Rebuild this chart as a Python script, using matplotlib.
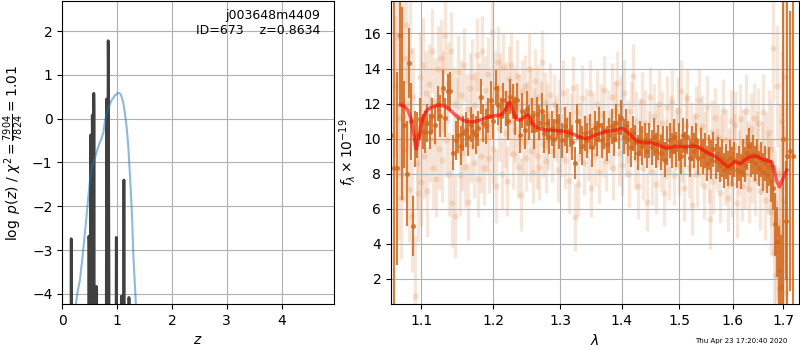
import numpy as np
import matplotlib
matplotlib.use('Agg')
import matplotlib.pyplot as plt
from matplotlib.ticker import FixedLocator, FixedFormatter, NullLocator

# ---- left panel: redshift p(z) ----
pz_z = [0.01, 0.155, 0.160, 0.164, 0.168, 0.173,
        0.478, 0.484, 0.487, 0.490, 0.494, 0.500,
        0.512, 0.518, 0.521, 0.524, 0.527, 0.533,
        0.541, 0.545, 0.548, 0.551, 0.556,
        0.567, 0.572, 0.576, 0.579, 0.583, 0.589,
        0.620, 0.624, 0.628, 0.632,
        0.798, 0.804, 0.810, 0.815, 0.822, 0.832, 0.838, 0.842, 0.847, 0.853, 0.860,
        0.975, 0.981, 0.986, 0.990, 0.995,
        1.072, 1.078, 1.082, 1.086,
        1.115, 1.120, 1.125, 1.129, 1.134,
        1.210, 1.215, 1.220, 1.225, 4.95]
pz_logp = [-12, -12, -8, -2.74, -8, -12,
           -12, -6, -2.68, -2.85, -6, -12,
           -12, -5, -0.37, -0.50, -5, -12,
           -12, -4, 0.08, -0.5, -12,
           -12, -4, 0.58, 0.2, -4, -12,
           -12, -3.83, -3.9, -12,
           -12, -4, 0.45, -1.0, -2.0, -1.0, 1.78, 1.2, -1.5, -4, -12,
           -12, -5, -2.71, -4, -12,
           -12, -4.05, -4.1, -12,
           -12, -5, -1.40, -4, -12,
           -12, -4.08, -4.1, -12, -12]

prior_z = [0.23, 0.25, 0.28, 0.323, 0.37, 0.414, 0.445, 0.475, 0.505, 0.535, 0.60,
           0.657, 0.70, 0.748, 0.78, 0.81, 0.86, 0.90, 0.96, 1.02, 1.06, 1.083,
           1.115, 1.144, 1.175, 1.205, 1.247, 1.275, 1.295, 1.325, 1.357]
prior_logp = [-4.6, -4.23, -3.95, -3.68, -3.15, -2.6, -2.2, -1.78, -1.42, -1.13, -0.88,
              -0.64, -0.5, -0.33, -0.05, 0.12, 0.30, 0.42, 0.53, 0.59, 0.57, 0.50,
              0.35, 0.12, -0.2, -0.64, -1.55, -2.3, -3.07, -3.8, -4.6]

# ---- right panel: spectrum ----
# individual pixels (faint)
faint_wave = [
    1.066, 1.068, 1.070, 1.072, 1.074, 1.076, 1.078, 1.080, 1.082, 1.084,
    1.086, 1.088, 1.090, 1.092, 1.094, 1.096, 1.098, 1.100, 1.102, 1.104,
    1.106, 1.108, 1.110, 1.112, 1.114, 1.116, 1.118, 1.120, 1.122, 1.124,
    1.126, 1.128, 1.130, 1.132, 1.134, 1.136, 1.138, 1.140, 1.142, 1.144,
    1.146, 1.148, 1.150, 1.152, 1.154, 1.156, 1.158, 1.160, 1.162, 1.164,
    1.166, 1.168, 1.170, 1.172, 1.174, 1.176, 1.178, 1.180, 1.182, 1.184,
    1.186, 1.188, 1.190, 1.192, 1.194, 1.196, 1.198, 1.200, 1.202, 1.204,
    1.206, 1.208, 1.210, 1.212, 1.214, 1.216, 1.218, 1.220, 1.222, 1.224,
    1.226, 1.228, 1.230, 1.232, 1.234, 1.236, 1.238, 1.240, 1.242, 1.244,
    1.246, 1.248, 1.250, 1.252, 1.254, 1.256, 1.258, 1.260, 1.262, 1.264,
    1.266, 1.268, 1.270, 1.272, 1.274, 1.276, 1.278, 1.280, 1.282, 1.284,
    1.287, 1.290, 1.293, 1.296, 1.299, 1.302, 1.305, 1.308, 1.311, 1.314,
    1.317, 1.320, 1.323, 1.326, 1.329, 1.332, 1.335, 1.338, 1.341, 1.344,
    1.347, 1.350, 1.353, 1.356, 1.359, 1.362, 1.365, 1.368, 1.371, 1.374,
    1.377, 1.380, 1.383, 1.386, 1.389, 1.392, 1.395, 1.398, 1.401, 1.404,
    1.407, 1.410, 1.413, 1.416, 1.419, 1.422, 1.425, 1.428, 1.431, 1.434,
    1.437, 1.440, 1.443, 1.446, 1.449, 1.452, 1.455, 1.458, 1.461, 1.464,
    1.467, 1.470, 1.473, 1.476, 1.479, 1.482, 1.485, 1.488, 1.491, 1.494,
    1.497, 1.500, 1.503, 1.506, 1.509, 1.512, 1.515, 1.518, 1.521, 1.524,
    1.527, 1.530, 1.533, 1.536, 1.539, 1.542, 1.545, 1.548, 1.551, 1.554,
    1.557, 1.560, 1.563, 1.566, 1.569, 1.572, 1.575, 1.578, 1.581, 1.584,
    1.587, 1.590, 1.593, 1.596, 1.599, 1.602, 1.605, 1.608, 1.611, 1.614,
    1.617, 1.620, 1.623, 1.626, 1.629, 1.632, 1.635, 1.638, 1.641, 1.644,
    1.647, 1.650, 1.653, 1.656, 1.659, 1.662, 1.665, 1.668, 1.671, 1.674,
    1.676, 1.678, 1.680, 1.682, 1.684, 1.686, 1.688, 1.690, 1.692, 1.694,
    1.696, 1.698, 1.700, 1.702, 1.704, 1.706]
faint_flux = [
    13.0, 15.8, 8.0, 11.2, 6.6, 14.6, 9.4, 16.5, 12.0, 7.1,
    15.0, 5.6, 12.4, 1.0, 8.6, 6.9, 13.5, 7.5, 14.2, 9.0,
    12.6, 7.0, 13.1, 10.0, 15.0, 8.3, 12.1, 7.7, 14.0, 9.4,
    14.6, 8.8, 12.7, 15.9, 9.9, 13.2, 8.0, 15.0, 6.3, 12.0,
    5.6, 11.3, 13.8, 7.9, 12.5, 9.2, 14.2, 8.4, 11.7, 6.4,
    12.9, 9.6, 13.5, 8.6, 11.9, 14.8, 7.7, 12.3, 9.0, 15.0,
    8.3, 12.8, 10.1, 13.7, 8.9, 12.0, 16.1, 9.4, 13.1, 7.3,
    14.4, 10.6, 12.9, 8.0, 14.1, 10.3, 12.6, 7.6, 13.4, 11.0,
    14.2, 9.1, 12.3, 10.5, 13.6, 8.4, 11.8, 6.8, 12.7, 9.8,
    13.0, 8.9, 11.5, 14.0, 9.3, 12.2, 8.1, 11.0, 13.3, 9.0,
    12.4, 8.4, 11.6, 14.4, 9.7, 12.1, 8.7, 11.3, 9.9, 12.5,
    9.3, 12.0, 10.6, 8.2, 11.7, 9.6, 12.6, 8.8, 11.1, 7.6,
    10.9, 12.9, 5.5, 11.5, 7.4, 10.4, 12.3, 8.6, 11.2, 9.4,
    12.6, 7.2, 10.8, 9.0, 12.0, 8.1, 11.4, 9.6, 12.8, 8.7,
    11.0, 9.9, 12.4, 8.3, 11.6, 13.2, 9.2, 11.9, 8.5, 12.6,
    9.5, 10.4, 8.0, 11.6, 13.6, 8.9, 11.0, 7.3, 10.5, 12.1,
    8.3, 10.9, 6.4, 9.8, 12.4, 8.1, 11.3, 7.4, 10.2, 12.0,
    8.7, 10.9, 6.9, 9.4, 11.8, 8.2, 10.6, 12.1, 7.9, 10.0,
    11.6, 8.5, 12.7, 9.2, 7.2, 10.8, 12.3, 8.4, 10.2, 6.2,
    9.6, 11.3, 8.0, 12.2, 9.0, 10.7, 7.3, 9.9, 11.8, 8.2,
    5.4, 10.4, 7.6, 11.2, 8.8, 10.1, 6.9, 9.5, 11.6, 7.9,
    9.9, 6.6, 8.9, 11.0, 7.4, 9.6, 10.8, 6.3, 8.6, 11.1,
    7.3, 9.8, 8.0, 11.6, 9.0, 7.1, 10.6, 8.4, 11.2, 7.7,
    9.5, 10.9, 7.0, 8.9, 11.5, 6.5, 9.3, 8.0, 10.4, 5.8,
    7.5, 9.4, 15.2, 3.5, 6.3, 2.2, 13.0, 4.6, 1.4, 8.0,
    3.0, 11.0, 2.0, 6.5, 13.5, 1.2]
faint_err = [
    4.0, 3.5, 3.8, 3.0, 3.5, 3.2, 3.0, 3.4, 2.8, 3.0,
    3.0, 3.2, 2.8, 3.5, 2.6, 2.8, 2.6, 2.5, 2.7, 2.4,
    2.4, 2.6, 2.3, 2.5, 2.4, 2.3, 2.5, 2.2, 2.4, 2.3,
    2.2, 2.4, 2.3, 2.2, 2.1, 2.3, 2.4, 2.2, 2.5, 2.1,
    2.4, 2.2, 2.1, 2.3, 2.0, 2.2, 2.1, 2.3, 2.0, 2.2,
    2.0, 2.1, 2.2, 2.0, 1.9, 2.1, 2.2, 2.0, 2.1, 2.0,
    2.1, 1.9, 2.0, 2.1, 2.0, 1.9, 2.2, 2.0, 1.9, 2.1,
    2.0, 1.9, 2.0, 2.1, 1.9, 2.0, 1.8, 2.0, 1.9, 2.0,
    1.9, 2.0, 1.8, 1.9, 2.0, 1.8, 1.9, 2.1, 1.8, 1.9,
    1.8, 1.9, 1.8, 2.0, 1.8, 1.9, 1.8, 1.9, 1.8, 1.9,
    1.8, 1.9, 1.7, 1.8, 1.9, 1.7, 1.8, 1.9, 1.7, 1.8,
    1.8, 1.7, 1.9, 1.8, 1.7, 1.8, 1.9, 1.7, 1.8, 1.9,
    1.7, 1.8, 1.9, 1.7, 1.8, 1.7, 1.9, 1.8, 1.7, 1.8,
    1.9, 1.7, 1.8, 1.7, 1.9, 1.8, 1.7, 1.8, 1.9, 1.7,
    1.8, 1.7, 1.9, 1.8, 1.7, 1.8, 1.9, 1.7, 1.8, 1.9,
    1.7, 1.8, 1.9, 1.7, 1.8, 1.8, 1.7, 1.9, 1.8, 1.7,
    1.8, 1.9, 1.7, 1.8, 1.7, 1.9, 1.8, 1.7, 1.8, 1.9,
    1.7, 1.8, 1.9, 1.7, 1.8, 1.7, 1.9, 1.8, 1.7, 1.8,
    1.9, 1.7, 1.8, 1.7, 1.9, 1.8, 1.7, 1.8, 1.9, 1.7,
    1.8, 1.7, 1.9, 1.8, 1.7, 1.8, 1.9, 1.7, 1.8, 1.9,
    1.7, 1.8, 1.9, 1.7, 1.8, 1.8, 1.7, 1.9, 1.8, 1.7,
    1.8, 1.9, 1.7, 1.8, 1.9, 1.8, 1.9, 2.0, 1.9, 2.0,
    2.0, 1.9, 2.0, 2.1, 2.0, 1.9, 2.0, 2.1, 2.0, 2.1,
    2.1, 2.0, 2.2, 2.1, 2.2, 2.3, 2.2, 2.3, 2.4, 2.5,
    2.5, 2.8, 3.0, 3.2, 3.0, 3.5, 3.5, 3.8, 4.0, 4.0,
    4.2, 4.0, 4.5, 4.2, 4.5, 4.8]

# binned spectrum (dark)
bin_wave = [
    1.0615, 1.0645, 1.0685, 1.0720, 1.0750, 1.0780, 1.0810, 1.0840, 1.0870, 1.0895,
    1.0925, 1.0950, 1.0985, 1.1020, 1.1050, 1.1085, 1.1120, 1.1150, 1.1185, 1.1220,
    1.1250, 1.1290, 1.1320, 1.1360, 1.1395, 1.1430, 1.1465, 1.1500, 1.1535, 1.1570,
    1.1605, 1.1640, 1.1675, 1.1710, 1.1745, 1.1780, 1.1815, 1.1850, 1.1890, 1.1925,
    1.1960, 1.2000, 1.2035, 1.2070, 1.2105, 1.2140, 1.2175, 1.2210, 1.2245, 1.2280,
    1.2315, 1.2350, 1.2385, 1.2420, 1.2460, 1.2495, 1.2530, 1.2565, 1.2600, 1.2640,
    1.2680, 1.2715, 1.2750, 1.2790, 1.2830, 1.2870, 1.2910, 1.2950, 1.2990, 1.3030,
    1.3070, 1.3110, 1.3150, 1.3190, 1.3230, 1.3270, 1.3310, 1.3350, 1.3390, 1.3430,
    1.3470, 1.3510, 1.3550, 1.3590, 1.3630, 1.3670, 1.3710, 1.3750, 1.3790, 1.3830,
    1.3870, 1.3910, 1.3950, 1.3990, 1.4030, 1.4070, 1.4110, 1.4150, 1.4190, 1.4230,
    1.4270, 1.4310, 1.4350, 1.4390, 1.4430, 1.4470, 1.4510, 1.4550, 1.4590, 1.4630,
    1.4670, 1.4710, 1.4750, 1.4790, 1.4830, 1.4870, 1.4910, 1.4950, 1.4990, 1.5030,
    1.5070, 1.5110, 1.5150, 1.5190, 1.5230, 1.5270, 1.5310, 1.5350, 1.5390, 1.5430,
    1.5470, 1.5510, 1.5550, 1.5590, 1.5630, 1.5670, 1.5710, 1.5750, 1.5790, 1.5830,
    1.5870, 1.5910, 1.5950, 1.5990, 1.6030, 1.6070, 1.6110, 1.6150, 1.6190, 1.6230,
    1.6270, 1.6310, 1.6350, 1.6390, 1.6430, 1.6470, 1.6510, 1.6550, 1.6590, 1.6630,
    1.6670, 1.6710, 1.6750, 1.6790, 1.6830, 1.6870, 1.6910, 1.6950, 1.7000, 1.7050,
    1.7085, 1.7140, 1.7200]
bin_flux = [
    10.2, 8.3, 8.3, 15.9, 12.0, 10.8, 8.0, 14.3, 11.0, 5.0,
    10.0, 10.2, 11.1, 10.4, 10.4, 10.9, 10.4, 11.3, 10.8, 12.0,
    11.3, 12.9, 11.2, 12.7, 12.7, 9.2, 9.9, 10.2, 9.6, 10.3,
    10.5, 10.1, 10.8, 10.4, 10.2, 10.6, 12.4, 10.9, 10.7, 11.3,
    12.2, 11.0, 12.9, 11.9, 11.3, 12.2, 11.7, 11.0, 12.4, 12.1,
    11.3, 12.2, 10.2, 11.6, 10.5, 11.7, 10.9, 11.3, 10.5, 11.4,
    10.9, 11.6, 10.3, 10.9, 10.1, 10.6, 10.0, 11.0, 10.4, 9.9,
    10.7, 10.2, 10.5, 9.8, 8.6, 11.0, 10.1, 9.6, 10.3, 9.9,
    10.4, 9.5, 10.6, 10.0, 10.8, 9.9, 10.5, 9.7, 10.2, 10.7,
    10.0, 10.9, 10.4, 11.2, 10.1, 10.7, 10.0, 9.5, 10.3, 9.8,
    9.2, 10.0, 9.6, 9.9, 9.3, 9.9, 9.5, 10.1, 9.3, 9.8,
    9.2, 9.7, 8.8, 9.6, 9.9, 9.3, 10.1, 9.4, 9.8, 9.0,
    10.2, 9.4, 10.1, 8.9, 9.7, 9.3, 9.9, 8.9, 9.5, 9.0,
    9.3, 8.6, 9.2, 8.8, 9.4, 8.7, 9.1, 8.5, 8.9, 8.2,
    8.7, 8.3, 8.9, 8.4, 8.8, 8.2, 8.6, 8.1, 8.9, 8.5,
    9.2, 9.6, 8.8, 9.1, 8.6, 9.0, 8.3, 8.8, 8.1, 8.6,
    7.9, 8.4, 7.6, 7.2, 5.1, 4.1, 2.5, 1.5, 10.0, 5.3,
    9.0, 9.3, 9.0]
bin_err = [
    30.0, 30.0, 5.5, 4.0, 5.5, 2.5, 3.0, 2.0, 2.2, 1.7,
    1.6, 1.3, 1.2, 1.0, 1.2, 1.1, 1.0, 1.0, 1.1, 1.0,
    1.2, 1.0, 1.1, 1.0, 1.1, 1.0, 1.1, 1.0, 1.1, 1.0,
    1.0, 1.1, 1.0, 1.0, 1.1, 1.0, 1.0, 1.1, 1.0, 1.0,
    1.1, 1.0, 1.0, 1.1, 1.0, 1.0, 1.0, 1.1, 1.0, 1.0,
    1.1, 1.0, 1.0, 1.0, 1.1, 1.0, 1.0, 1.0, 1.1, 1.0,
    1.0, 1.0, 1.1, 1.0, 1.0, 1.0, 1.1, 1.0, 1.0, 1.0,
    1.1, 1.0, 1.0, 1.0, 0.9, 1.0, 1.0, 1.1, 1.0, 1.0,
    1.0, 1.1, 1.0, 1.0, 1.0, 1.0, 1.1, 1.0, 1.0, 1.0,
    1.0, 1.1, 1.0, 1.0, 1.0, 1.0, 1.0, 1.1, 1.0, 1.0,
    1.0, 1.0, 1.1, 1.0, 1.0, 1.0, 1.0, 1.1, 1.0, 1.0,
    1.0, 1.0, 1.0, 1.1, 1.0, 1.0, 1.0, 1.0, 1.1, 1.0,
    1.0, 1.0, 1.0, 1.1, 1.0, 1.0, 1.0, 1.0, 1.1, 1.0,
    1.0, 1.0, 1.0, 1.1, 1.0, 1.0, 1.0, 1.0, 1.1, 1.0,
    1.0, 1.0, 1.0, 1.1, 1.0, 1.0, 1.0, 1.0, 1.1, 1.0,
    1.0, 1.0, 1.0, 1.1, 1.0, 1.0, 1.0, 1.0, 1.1, 1.0,
    1.0, 1.1, 1.2, 1.3, 1.8, 2.0, 2.5, 3.0, 30.0, 3.4,
    30.0, 8.0, 30.0]

# best-fit model
model_wave = [1.0726, 1.0780, 1.0830, 1.0870, 1.0905, 1.0935, 1.0965, 1.0995, 1.1035, 1.1076,
              1.1150, 1.1250, 1.1320, 1.1390, 1.1460, 1.1525, 1.1590, 1.1662, 1.1730, 1.1800,
              1.1870, 1.1940, 1.2010, 1.2086, 1.2130, 1.2170, 1.2205, 1.2232, 1.2265, 1.2305,
              1.2340, 1.2378, 1.2415, 1.2452, 1.2485, 1.2511, 1.2540, 1.2575, 1.2620, 1.2675,
              1.2750, 1.2826, 1.2930, 1.3030, 1.3130, 1.3240, 1.3320, 1.3400, 1.3480, 1.3560,
              1.3640, 1.3726, 1.3810, 1.3890, 1.3950, 1.4005, 1.4060, 1.4120, 1.4200, 1.4290,
              1.4400, 1.4520, 1.4610, 1.4700, 1.4790, 1.4865, 1.4940, 1.5030, 1.5120, 1.5210,
              1.5300, 1.5395, 1.5490, 1.5580, 1.5675, 1.5780, 1.5895, 1.5960, 1.6025, 1.6090,
              1.6155, 1.6240, 1.6320, 1.6455, 1.6590, 1.6680, 1.6760, 1.6810, 1.6860, 1.6920,
              1.6990, 1.7070]
model_flux = [11.91, 11.85, 11.6, 11.1, 10.2, 9.4, 9.9, 10.7, 11.3, 11.62,
              11.82, 11.91, 11.85, 11.62, 11.35, 11.15, 11.02, 10.95, 10.97, 11.05,
              11.15, 11.24, 11.3, 11.34, 11.42, 11.6, 11.95, 12.1, 11.8, 11.34,
              11.12, 11.05, 11.12, 11.24, 11.32, 11.34, 11.15, 10.86, 10.68, 10.58,
              10.5, 10.48, 10.46, 10.44, 10.35, 10.2, 10.08, 10.0, 10.08, 10.2,
              10.3, 10.38, 10.44, 10.48, 10.55, 10.58, 10.48, 10.29, 10.02, 9.81,
              9.76, 9.76, 9.65, 9.53, 9.44, 9.5, 9.57, 9.55, 9.53, 9.56,
              9.57, 9.42, 9.24, 9.1, 8.96, 8.7, 8.39, 8.5, 8.67, 8.63,
              8.58, 8.78, 8.96, 9.0, 8.81, 8.73, 8.67, 8.3, 7.6, 7.24,
              7.7, 8.2]

obj_name = 'j003648m4409'
obj_id = 673
z_best = 0.8634
chi2_num, chi2_den = 7904, 7824
timestamp = 'Thu Apr 23 17:20:40 2020'

orange = '#d2691e'

fig = plt.figure(figsize=(8, 3.5), dpi=100)
ax1 = fig.add_axes([0.0778, 0.1314, 0.3396, 0.865])
ax2 = fig.add_axes([0.4888, 0.1314, 0.5100, 0.865])

# p(z)
ax1.plot(pz_z, pz_logp, color='0.25', lw=2)
ax1.plot(prior_z, prior_logp, color='tab:blue', alpha=0.5, lw=1.5)
ax1.set_xlim(0, 4.955)
ax1.set_ylim(-4.23, 2.68)
ax1.set_xticks([0, 1, 2, 3, 4])
ax1.set_yticks([-4, -3, -2, -1, 0, 1, 2])
ax1.grid(True)
ax1.set_xlabel('$z$')
ax1.set_ylabel(r'$\log\ p(z)$' + ' / ' +
               r'$\chi^2=\frac{%d}{%d}=%.2f$' % (chi2_num, chi2_den, chi2_num / chi2_den))
ax1.text(0.95, 0.975, '%s\nID=%d    z=%.4f' % (obj_name, obj_id, z_best),
         transform=ax1.transAxes, ha='right', va='top', multialignment='right', fontsize=9)

# spectrum
ax2.errorbar(faint_wave, faint_flux, yerr=faint_err, fmt='o', color=orange,
             alpha=0.16, ms=4.5, elinewidth=2.4, mec='none', zorder=1)
ax2.errorbar(bin_wave, bin_flux, yerr=bin_err, fmt='o', color=orange,
             alpha=0.85, ms=3.6, elinewidth=1.5, mec='none', zorder=2)
ax2.plot(model_wave, model_flux, color='r', alpha=0.6, lw=2.5, zorder=3,
         solid_joinstyle='round')

ax2.set_xscale('log')
ax2.set_xlim(1.061, 1.7324)
ax2.set_ylim(0.555, 17.84)
lam_ticks = [1.1, 1.2, 1.3, 1.4, 1.5, 1.6, 1.7]
ax2.xaxis.set_major_locator(FixedLocator(lam_ticks))
ax2.xaxis.set_major_formatter(FixedFormatter(['%.1f' % t for t in lam_ticks]))
ax2.xaxis.set_minor_locator(NullLocator())
ax2.set_yticks([2, 4, 6, 8, 10, 12, 14, 16])
ax2.grid(True)
ax2.set_xlabel(r'$\lambda$')
ax2.set_ylabel(r'$f_\lambda\times10^{-19}$')

fig.text(0.984, 0.018, timestamp, ha='right', va='bottom', fontsize=5)

fig.savefig('out.png', dpi=100)
